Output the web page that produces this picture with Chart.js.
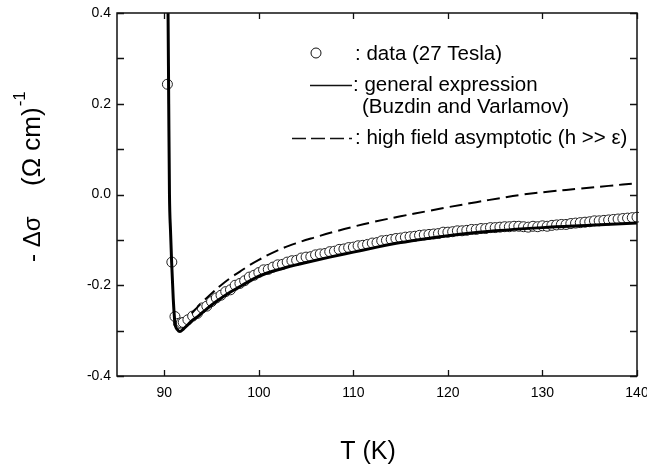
<!DOCTYPE html>
<html>
<head>
<meta charset="utf-8">
<script src="https://cdn.jsdelivr.net/npm/chart.js@4/dist/chart.umd.min.js"></script>
<style>
  html, body { margin: 0; padding: 0; background: #fff; }
  #wrap { width: 647px; height: 467px; position: relative; }
</style>
</head>
<body>
<div id="wrap"><canvas id="chart"></canvas></div>
<script>
// measured data, 27 T
const T_DATA = [90.33, 90.8, 91.13, 91.5, 91.8,
  92.0, 92.5, 93.0, 93.5, 94.0, 94.5, 95.0, 95.5, 96.0, 96.5, 97.0, 97.5, 98.0, 98.5, 99.0, 99.5,
  100.0, 100.5, 101.0, 101.5, 102.0, 102.5, 103.0, 103.5, 104.0, 104.5, 105.0, 105.5, 106.0, 106.5,
  107.0, 107.5, 108.0, 108.5, 109.0, 109.5, 110.0, 110.5, 111.0, 111.5, 112.0, 112.5, 113.0, 113.5,
  114.0, 114.5, 115.0, 115.5, 116.0, 116.5, 117.0, 117.5, 118.0, 118.5, 119.0, 119.5, 120.0, 120.5,
  121.0, 121.5, 122.0, 122.5, 123.0, 123.5, 124.0, 124.5, 125.0, 125.5, 126.0, 126.5, 127.0, 127.5,
  128.0, 128.5, 129.0, 129.5, 130.0, 130.5, 131.0, 131.5, 132.0, 132.5, 133.0, 133.5, 134.0, 134.5,
  135.0, 135.5, 136.0, 136.5, 137.0, 137.5, 138.0, 138.5, 139.0, 139.5, 140.0];
const SIGMA_DATA = [0.243, -0.149, -0.269, -0.284, -0.283,
  -0.282, -0.276, -0.268, -0.262, -0.250, -0.246, -0.236, -0.228, -0.222, -0.214, -0.210, -0.200, -0.196, -0.190, -0.182, -0.178,
  -0.172, -0.166, -0.165, -0.160, -0.155, -0.154, -0.149, -0.146, -0.145, -0.140, -0.138, -0.137, -0.133, -0.131,
  -0.130, -0.126, -0.125, -0.121, -0.120, -0.117, -0.116, -0.113, -0.112, -0.110, -0.107, -0.106, -0.102, -0.101,
  -0.099, -0.097, -0.096, -0.094, -0.093, -0.092, -0.090, -0.089, -0.088, -0.087, -0.086, -0.083, -0.083, -0.082,
  -0.080, -0.080, -0.079, -0.077, -0.077, -0.075, -0.075, -0.073, -0.073, -0.072, -0.071, -0.071, -0.070, -0.070,
  -0.071, -0.072, -0.070, -0.071, -0.069, -0.070, -0.068, -0.067, -0.066, -0.066, -0.064, -0.063, -0.062, -0.061,
  -0.060, -0.058, -0.058, -0.057, -0.056, -0.055, -0.054, -0.053, -0.052, -0.051, -0.050];

// general expression (Buzdin and Varlamov)
const T_FIT = [90.37, 90.40, 90.47, 90.55, 90.66, 90.78, 90.95, 91.13, 91.4, 91.66, 92.0, 92.5, 93.0, 93.6,
  94.5, 95.5, 97.0, 98.5, 100.0, 102.5, 105.0, 107.5, 110.0, 112.5, 115.0, 117.5, 120.0, 122.5, 125.0,
  130.0, 135.0, 140.0];
const SIGMA_FIT = [0.44, 0.40, 0.20, 0.0, -0.08, -0.15, -0.23, -0.283, -0.298, -0.302, -0.297, -0.287, -0.277, -0.268,
  -0.252, -0.236, -0.215, -0.197, -0.180, -0.163, -0.150, -0.138, -0.127, -0.116, -0.106, -0.098, -0.091, -0.085, -0.080,
  -0.073, -0.068, -0.063];

// high field asymptotic (h >> eps)
const T_ASYM = [92.9, 93.25, 94.0, 95.0, 96.0, 97.0, 98.0, 99.0, 100.0, 102.0, 104.0, 106.0, 108.0, 110.0,
  112.0, 115.0, 118.0, 120.0, 123.0, 125.5, 128.0, 131.0, 134.0, 137.0, 140.0];
const SIGMA_ASYM = [-0.262, -0.254, -0.238, -0.218, -0.200, -0.184, -0.170, -0.156, -0.144, -0.123, -0.107, -0.094, -0.082, -0.071,
  -0.061, -0.048, -0.036, -0.028, -0.017, -0.008, 0.0, 0.007, 0.013, 0.019, 0.025];

const X_TICKS = [90, 100, 110, 120, 130, 140];
const Y_TICKS = [-0.4, -0.3, -0.2, -0.1, 0.0, 0.1, 0.2, 0.3, 0.4];
const Y_LABELS = ['-0.4', '', '-0.2', '', '0.0', '', '0.2', '', '0.4'];

const FONT = '"Liberation Sans", Arial, Helvetica, sans-serif';

function pts(xs, ys) {
  return xs.map((x, i) => ({ x: x, y: ys[i] }));
}

const frame = {
  id: 'frame',
  afterDatasetsDraw(chart) {
    const ctx = chart.ctx;
    const a = chart.chartArea;
    const xs = chart.scales.x;
    const ys = chart.scales.y;
    ctx.save();
    ctx.strokeStyle = '#111';
    ctx.lineWidth = 1.5;
    ctx.strokeRect(a.left, a.top, a.right - a.left, a.bottom - a.top);

    // inward ticks
    ctx.lineWidth = 1.3;
    ctx.beginPath();
    X_TICKS.forEach(v => {
      const px = Math.round(xs.getPixelForValue(v)) + 0.5;
      ctx.moveTo(px, a.bottom); ctx.lineTo(px, a.bottom - 6);
      ctx.moveTo(px, a.top); ctx.lineTo(px, a.top + 6);
    });
    Y_TICKS.forEach(v => {
      const py = Math.round(ys.getPixelForValue(v)) + 0.5;
      ctx.moveTo(a.left, py); ctx.lineTo(a.left + 7, py);
      ctx.moveTo(a.right, py); ctx.lineTo(a.right - 7, py);
    });
    ctx.stroke();

    // tick labels
    ctx.fillStyle = '#000';
    ctx.font = '14px ' + FONT;
    ctx.textAlign = 'center';
    ctx.textBaseline = 'middle';
    X_TICKS.forEach(v => {
      ctx.fillText(String(v), xs.getPixelForValue(v), a.bottom + 17);
    });
    ctx.textAlign = 'right';
    Y_TICKS.forEach((v, i) => {
      if (Y_LABELS[i]) ctx.fillText(Y_LABELS[i], a.left - 6, ys.getPixelForValue(v));
    });

    // axis titles
    ctx.font = '25px ' + FONT;
    ctx.textAlign = 'center';
    ctx.fillText('T (K)', 368, 452);

    ctx.save();
    ctx.translate(33, 262);
    ctx.rotate(-Math.PI / 2);
    ctx.textAlign = 'left';
    ctx.font = '24px ' + FONT;
    ctx.fillText('- \u0394\u03c3', 0, 0);
    ctx.font = '26px ' + FONT;
    const p2 = '(\u03a9 cm)';
    ctx.fillText(p2, 76, 0);
    const w2 = ctx.measureText(p2).width;
    ctx.font = '17px ' + FONT;
    ctx.fillText('-1', 76 + w2 + 1, -13);
    ctx.restore();

    // legend
    ctx.font = '20.5px ' + FONT;
    ctx.textAlign = 'left';
    ctx.beginPath();
    ctx.arc(316, 53, 5, 0, Math.PI * 2);
    ctx.lineWidth = 1;
    ctx.stroke();
    ctx.fillText(': data (27 Tesla)', 355, 54);

    ctx.lineWidth = 1.4;
    ctx.beginPath();
    ctx.moveTo(310, 85.5); ctx.lineTo(352, 85.5);
    ctx.stroke();
    ctx.fillText(': general expression', 353, 85);
    ctx.fillText('(Buzdin and Varlamov)', 362, 107);

    ctx.setLineDash([14, 5]);
    ctx.beginPath();
    ctx.moveTo(292, 138.5); ctx.lineTo(352, 138.5);
    ctx.stroke();
    ctx.setLineDash([]);
    ctx.fillText(': high field asymptotic (h >> \u03b5)', 355, 138);
    ctx.restore();
  }
};

const chart = new Chart(document.getElementById('chart'), {
  type: 'scatter',
  data: {
    datasets: [
      {
        label: 'data (27 Tesla)',
        data: pts(T_DATA, SIGMA_DATA),
        pointStyle: 'circle',
        pointRadius: 5,
        pointBorderWidth: 1,
        pointBorderColor: '#222',
        pointBackgroundColor: '#fff',
        showLine: false,
        clip: 2,
        order: 3
      },
      {
        type: 'line',
        label: 'high field asymptotic',
        data: pts(T_ASYM, SIGMA_ASYM),
        borderColor: '#000',
        borderWidth: 2,
        borderDash: [13, 6],
        pointRadius: 0,
        fill: false,
        tension: 0.4,
        clip: 0,
        order: 2
      },
      {
        type: 'line',
        label: 'general expression',
        data: pts(T_FIT, SIGMA_FIT),
        borderColor: '#000',
        borderWidth: 3,
        pointRadius: 0,
        fill: false,
        cubicInterpolationMode: 'monotone',
        clip: 0,
        order: 1
      }
    ]
  },
  options: {
    responsive: true,
    maintainAspectRatio: false,
    animation: false,
    layout: {
      padding: { left: 117, top: 13, right: 10, bottom: 91 }
    },
    scales: {
      x: { type: 'linear', min: 85, max: 140, display: false },
      y: { type: 'linear', min: -0.4, max: 0.4, display: false }
    },
    plugins: {
      legend: { display: false },
      tooltip: { enabled: false }
    }
  },
  plugins: [frame]
});
</script>
</body>
</html>
